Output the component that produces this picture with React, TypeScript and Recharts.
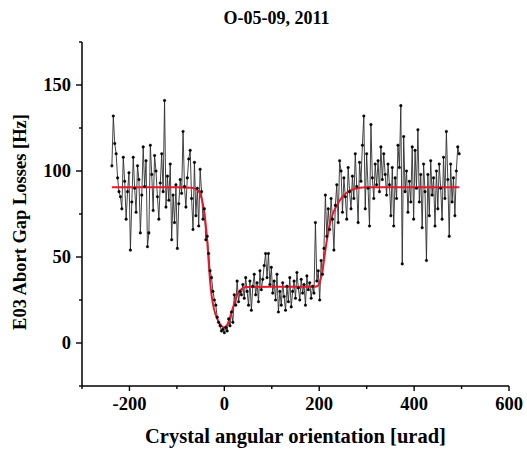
import React from 'react';
import { ComposedChart, Line, XAxis, YAxis, Label } from 'recharts';

// scan: crystal angle [urad] vs. E03 abort gap losses [Hz]
const angles = [
  -237, -234, -231, -228, -225, -222, -219, -216, -213, -210, -207, -204, -201, -198, -195,
  -192, -189, -186, -183, -180, -177, -174, -171, -168, -165, -162, -159, -156, -153, -150,
  -147, -144, -141, -138, -135, -132, -129, -126, -123, -120, -117, -114, -111, -108, -105,
  -102, -99, -96, -93, -90, -87, -84, -81, -78, -75, -72, -69, -66, -63, -60,
  -57, -54, -51, -48, -45, -42, -39, -36, -33, -30, -27, -24, -21, -18, -15,
  -12, -9, -6, -3, 0, 3, 6, 9, 12, 15, 18, 21, 24, 27, 30,
  33, 36, 39, 42, 45, 48, 51, 54, 57, 60, 63, 66, 69, 72, 75,
  78, 81, 84, 87, 90, 93, 96, 99, 102, 105, 108, 111, 114, 117, 120,
  123, 126, 129, 132, 135, 138, 141, 144, 147, 150, 153, 156, 159, 162, 165,
  168, 171, 174, 177, 180, 183, 186, 189, 192, 195, 198, 201, 204, 207, 210,
  213, 216, 219, 222, 225, 228, 231, 234, 237, 240, 243, 246, 249, 252, 255,
  258, 261, 264, 267, 270, 273, 276, 279, 282, 285, 288, 291, 294, 297, 300,
  303, 306, 309, 312, 315, 318, 321, 324, 327, 330, 333, 336, 339, 342, 345,
  348, 351, 354, 357, 360, 363, 366, 369, 372, 375, 378, 381, 384, 387, 390,
  393, 396, 399, 402, 405, 408, 411, 414, 417, 420, 423, 426, 429, 432, 435,
  438, 441, 444, 447, 450, 453, 456, 459, 462, 465, 468, 471, 474, 477, 480,
  483, 486, 489, 492, 495,
];

const losses = [
  103, 132, 116, 110, 96, 88, 85, 78, 108, 94, 72, 88, 99, 54, 82,
  108, 90, 76, 103, 95, 64, 86, 114, 91, 106, 56, 64, 115, 98, 77,
  109, 100, 85, 72, 93, 110, 88, 141, 79, 97, 83, 104, 60, 86, 70,
  92, 55, 81, 95, 87, 123, 91, 79, 96, 107, 112, 84, 66, 105, 74,
  90, 68, 101, 88, 72, 78, 60, 62, 52, 42, 38, 30, 25, 22, 15,
  12, 10, 7, 8, 6, 9, 7, 14, 10, 18, 12, 28, 22, 36, 24,
  30, 28, 34, 26, 38, 30, 22, 36, 19, 33, 40, 28, 35, 24, 42,
  31, 37, 45, 52, 38, 52, 34, 44, 29, 36, 25, 40, 18, 30, 22,
  35, 27, 19, 33, 24, 38, 21, 30, 36, 26, 41, 32, 25, 37, 29,
  34, 22, 39, 31, 35, 26, 33, 29, 70, 36, 42, 25, 48, 40, 55,
  86, 62, 78, 66, 84, 72, 54, 80, 92, 70, 106, 100, 76, 96, 85,
  72, 102, 88, 78, 97, 84, 110, 91, 70, 105, 94, 115, 132, 78, 110,
  90, 68, 127, 96, 84, 104, 92, 106, 88, 114, 95, 110, 98, 86, 104,
  92, 74, 102, 68, 96, 84, 115, 102, 138, 46, 120, 88, 100, 76, 94,
  82, 114, 72, 112, 90, 124, 82, 98, 67, 104, 88, 48, 98, 74, 106,
  86, 96, 68, 100, 78, 104, 90, 72, 108, 84, 123, 95, 62, 104, 82,
  96, 74, 100, 114, 110,
];

// fitted curve (red)
const fitAngles = [
  -237, -100, -70, -60, -55, -50, -45, -40, -36, -33, -30, -27, -22, -15, -8, 0, 7, 15, 22,
  27, 35, 45, 100, 190, 198, 203, 208, 213, 218, 223, 230, 240, 252, 264, 280, 300, 495,
];
const fitLosses = [
  90.5, 90.5, 90.3, 89.6, 88.5, 86, 80.5, 71, 59, 47, 36, 28, 20, 14, 10.5, 9, 11, 17.5, 24,
  28, 31, 32.5, 32.7, 32.7, 33.5, 37, 44, 54, 63, 70, 76, 81.5, 86, 88.5, 90, 90.5, 90.5,
];

const xTicks = [-300, -200, -100, 0, 100, 200, 300, 400, 500, 600];
const yTicks = [-25, 0, 25, 50, 75, 100, 125, 150, 175];

const scanData = angles.map((a, i) => ({ angle: a, loss: losses[i] }));
const fitData = fitAngles.map((a, i) => ({ angle: a, fit: fitLosses[i] }));

const serif = "'Liberation Serif', 'Times New Roman', serif";

const XTick = (props: any) => {
  const { x, y, payload } = props;
  const major = payload.value % 200 === 0;
  return (
    <g>
      <line x1={x} x2={x} y1={y} y2={y + (major ? 5 : 3)} stroke="#000" strokeWidth={1.4} />
      {major && (
        <text x={x} y={y + 24} textAnchor="middle" fontFamily={serif} fontWeight="bold" fontSize={18.5} fill="#000">
          {payload.value}
        </text>
      )}
    </g>
  );
};

const YTick = (props: any) => {
  const { x, y, payload } = props;
  const major = payload.value % 50 === 0;
  return (
    <g>
      <line x1={x} x2={x - (major ? 6 : 3)} y1={y} y2={y} stroke="#000" strokeWidth={1.4} />
      {major && (
        <text x={x - 11} y={y} dy="0.35em" textAnchor="end" fontFamily={serif} fontWeight="bold" fontSize={18.5} fill="#000">
          {payload.value}
        </text>
      )}
    </g>
  );
};

const XTitle = (props: any) => {
  const vb = props.viewBox;
  return (
    <text x={vb.x + vb.width / 2} y={vb.y + 57} textAnchor="middle" fontFamily={serif} fontWeight="bold" fontSize={20.5} fill="#000">
      Crystal angular orientation [urad]
    </text>
  );
};

const YTitle = (props: any) => {
  const vb = props.viewBox;
  const cx = vb.x + 20;
  const cy = vb.y + vb.height / 2 + 8;
  return (
    <text
      x={cx} y={cy} dy="0.35em" transform={`rotate(-90 ${cx} ${cy})`}
      textAnchor="middle" fontFamily={serif} fontWeight="bold" fontSize={18.5} fill="#000"
    >
      E03 Abort Gap Losses [Hz]
    </text>
  );
};

export default function App() {
  return (
    <div style={{ position: 'absolute', left: 0, top: 0, width: 527, height: 449, background: '#fff' }}>
      <div style={{
        position: 'absolute', left: 0, top: 8, width: 553, textAlign: 'center',
        fontFamily: serif, fontWeight: 'bold', fontSize: 18, color: '#000',
      }}>
        O-05-09, 2011
      </div>
      <ComposedChart width={527} height={449} margin={{ top: 42, right: 18, bottom: 23, left: 0 }}>
        <XAxis
          type="number" dataKey="angle" domain={[-300, 600]} ticks={xTicks} interval={0}
          height={40} tickSize={0} tickMargin={0} tickLine={false}
          axisLine={{ stroke: '#000', strokeWidth: 1.5 }} tick={<XTick />}
        >
          <Label content={<XTitle />} />
        </XAxis>
        <YAxis
          type="number" domain={[-25, 175]} ticks={yTicks} interval={0}
          width={82} tickSize={0} tickMargin={0} tickLine={false}
          axisLine={{ stroke: '#000', strokeWidth: 1.5 }} tick={<YTick />}
        >
          <Label content={<YTitle />} />
        </YAxis>
        <Line
          data={scanData} dataKey="loss" type="linear" stroke="#2e2e2e" strokeWidth={0.9}
          dot={{ r: 1.3, fill: '#000', stroke: '#000', strokeWidth: 0.4 }}
          isAnimationActive={false}
        />
        <Line
          data={fitData} dataKey="fit" type="monotone" stroke="#e8192c" strokeWidth={2}
          dot={false} isAnimationActive={false}
        />
      </ComposedChart>
    </div>
  );
}
